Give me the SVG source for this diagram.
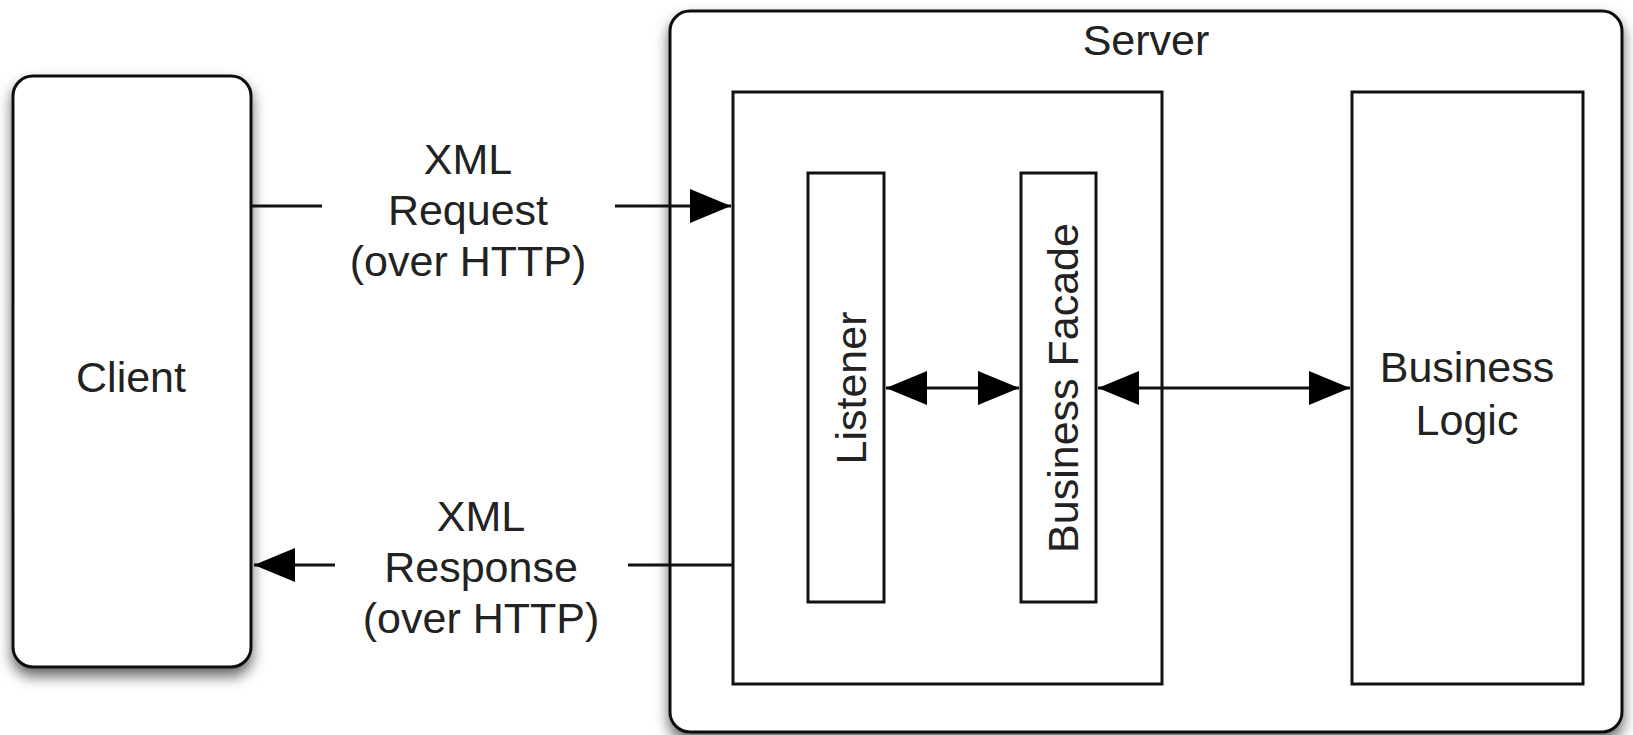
<svg xmlns="http://www.w3.org/2000/svg" width="1633" height="735" viewBox="0 0 1633 735">
<style>
text{font-family:"Liberation Sans",Arial,sans-serif;font-size:43px;fill:#222;text-anchor:middle}
.box{fill:#fff;stroke:#111;stroke-width:3}
.ln{stroke:#111;stroke-width:3;fill:none}
</style>
<defs>
<filter id="sh" x="-10%" y="-10%" width="120%" height="125%">
<feDropShadow dx="0" dy="8" stdDeviation="7" flood-color="#000" flood-opacity="0.6"/>
</filter>
<marker id="ah" viewBox="0 0 41 34" refX="41" refY="17" markerWidth="41" markerHeight="34" markerUnits="userSpaceOnUse" orient="auto-start-reverse">
<path d="M0,0 L41,17 L0,34 z" fill="#000"/>
</marker>
</defs>
<rect width="1633" height="735" fill="#fff"/>
<g id="client">
<rect class="box" x="13" y="76" width="238" height="591" rx="20" filter="url(#sh)"/>
<text x="131" y="392">Client</text>
</g>
<g id="server">
<rect class="box" x="670" y="11" width="952" height="721" rx="20" filter="url(#sh)"/>
<text x="1146" y="55">Server</text>
</g>
<g id="container">
<rect class="box" x="733" y="92" width="429" height="592"/>
</g>
<g id="listener">
<rect class="box" x="808" y="173" width="76" height="429"/>
<text transform="translate(866,388) rotate(-90)">Listener</text>
</g>
<g id="facade">
<rect class="box" x="1021" y="173" width="75" height="429"/>
<text transform="translate(1078,388) rotate(-90)">Business Facade</text>
</g>
<g id="logic">
<rect class="box" x="1352" y="92" width="231" height="592"/>
<text x="1467" y="382">Business</text>
<text x="1467" y="435">Logic</text>
</g>
<g id="connectors">
<line class="ln" x1="252" y1="206" x2="322" y2="206"/>
<line class="ln" x1="615" y1="206" x2="731" y2="206" marker-end="url(#ah)"/>
<line class="ln" x1="733" y1="565" x2="628" y2="565"/>
<line class="ln" x1="335" y1="565" x2="254" y2="565" marker-end="url(#ah)"/>
<line class="ln" x1="886" y1="388" x2="1019" y2="388" marker-start="url(#ah)" marker-end="url(#ah)"/>
<line class="ln" x1="1098" y1="388" x2="1350" y2="388" marker-start="url(#ah)" marker-end="url(#ah)"/>
</g>
<g id="labels">
<text x="468" y="174">XML</text>
<text x="468" y="225">Request</text>
<text x="468" y="276">(over HTTP)</text>
<text x="481" y="531">XML</text>
<text x="481" y="582">Response</text>
<text x="481" y="633">(over HTTP)</text>
</g>
</svg>
